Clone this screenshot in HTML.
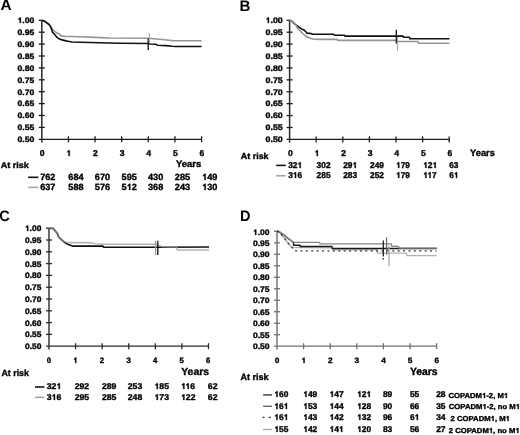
<!DOCTYPE html>
<html><head><meta charset="utf-8"><style>
html,body{margin:0;padding:0;background:#fff;}
svg{display:block;will-change:transform;}
text{font-family:"Liberation Sans", sans-serif;font-weight:bold;text-rendering:geometricPrecision;stroke:#000;stroke-width:0.35px;}
.o{fill:none;stroke:none;}
.one{fill:#000;stroke:#000;stroke-width:0.35px;}
</style></head><body>
<svg width="520" height="435" viewBox="0 0 520 435">
<rect width="520" height="435" fill="#fff"/>
<line x1="41.80" y1="20.30" x2="41.80" y2="142.50" stroke="#2a2a2a" stroke-width="1.5"/>
<line x1="38.80" y1="139.30" x2="201.58" y2="139.30" stroke="#1a1a1a" stroke-width="1.3"/>
<line x1="38.80" y1="20.30" x2="41.80" y2="20.30" stroke="#1a1a1a" stroke-width="1.3"/>
<line x1="38.80" y1="32.20" x2="44.80" y2="32.20" stroke="#1a1a1a" stroke-width="1.3"/>
<line x1="38.80" y1="44.10" x2="44.80" y2="44.10" stroke="#1a1a1a" stroke-width="1.3"/>
<line x1="38.80" y1="56.00" x2="44.80" y2="56.00" stroke="#1a1a1a" stroke-width="1.3"/>
<line x1="38.80" y1="67.90" x2="44.80" y2="67.90" stroke="#1a1a1a" stroke-width="1.3"/>
<line x1="38.80" y1="79.80" x2="44.80" y2="79.80" stroke="#1a1a1a" stroke-width="1.3"/>
<line x1="38.80" y1="91.70" x2="44.80" y2="91.70" stroke="#1a1a1a" stroke-width="1.3"/>
<line x1="38.80" y1="103.60" x2="44.80" y2="103.60" stroke="#1a1a1a" stroke-width="1.3"/>
<line x1="38.80" y1="115.50" x2="44.80" y2="115.50" stroke="#1a1a1a" stroke-width="1.3"/>
<line x1="38.80" y1="127.40" x2="44.80" y2="127.40" stroke="#1a1a1a" stroke-width="1.3"/>
<line x1="68.43" y1="136.30" x2="68.43" y2="142.30" stroke="#1a1a1a" stroke-width="1.3"/>
<line x1="95.06" y1="136.30" x2="95.06" y2="142.30" stroke="#1a1a1a" stroke-width="1.3"/>
<line x1="121.69" y1="136.30" x2="121.69" y2="142.30" stroke="#1a1a1a" stroke-width="1.3"/>
<line x1="148.32" y1="136.30" x2="148.32" y2="142.30" stroke="#1a1a1a" stroke-width="1.3"/>
<line x1="174.95" y1="136.30" x2="174.95" y2="142.30" stroke="#1a1a1a" stroke-width="1.3"/>
<line x1="201.58" y1="136.30" x2="201.58" y2="142.30" stroke="#1a1a1a" stroke-width="1.3"/>
<line x1="289.60" y1="20.30" x2="289.60" y2="142.60" stroke="#2a2a2a" stroke-width="1.5"/>
<line x1="286.60" y1="139.40" x2="449.20" y2="139.40" stroke="#1a1a1a" stroke-width="1.3"/>
<line x1="286.60" y1="20.30" x2="289.60" y2="20.30" stroke="#1a1a1a" stroke-width="1.3"/>
<line x1="286.60" y1="32.21" x2="292.60" y2="32.21" stroke="#1a1a1a" stroke-width="1.3"/>
<line x1="286.60" y1="44.12" x2="292.60" y2="44.12" stroke="#1a1a1a" stroke-width="1.3"/>
<line x1="286.60" y1="56.03" x2="292.60" y2="56.03" stroke="#1a1a1a" stroke-width="1.3"/>
<line x1="286.60" y1="67.94" x2="292.60" y2="67.94" stroke="#1a1a1a" stroke-width="1.3"/>
<line x1="286.60" y1="79.85" x2="292.60" y2="79.85" stroke="#1a1a1a" stroke-width="1.3"/>
<line x1="286.60" y1="91.76" x2="292.60" y2="91.76" stroke="#1a1a1a" stroke-width="1.3"/>
<line x1="286.60" y1="103.67" x2="292.60" y2="103.67" stroke="#1a1a1a" stroke-width="1.3"/>
<line x1="286.60" y1="115.58" x2="292.60" y2="115.58" stroke="#1a1a1a" stroke-width="1.3"/>
<line x1="286.60" y1="127.49" x2="292.60" y2="127.49" stroke="#1a1a1a" stroke-width="1.3"/>
<line x1="316.20" y1="136.40" x2="316.20" y2="142.40" stroke="#1a1a1a" stroke-width="1.3"/>
<line x1="342.80" y1="136.40" x2="342.80" y2="142.40" stroke="#1a1a1a" stroke-width="1.3"/>
<line x1="369.40" y1="136.40" x2="369.40" y2="142.40" stroke="#1a1a1a" stroke-width="1.3"/>
<line x1="396.00" y1="136.40" x2="396.00" y2="142.40" stroke="#1a1a1a" stroke-width="1.3"/>
<line x1="422.60" y1="136.40" x2="422.60" y2="142.40" stroke="#1a1a1a" stroke-width="1.3"/>
<line x1="449.20" y1="136.40" x2="449.20" y2="142.40" stroke="#1a1a1a" stroke-width="1.3"/>
<line x1="49.00" y1="228.20" x2="49.00" y2="349.40" stroke="#444" stroke-width="1.6"/>
<line x1="46.00" y1="346.20" x2="208.48" y2="346.20" stroke="#2a2a2a" stroke-width="1.3"/>
<line x1="46.00" y1="228.20" x2="49.00" y2="228.20" stroke="#2a2a2a" stroke-width="1.3"/>
<line x1="46.00" y1="240.00" x2="52.00" y2="240.00" stroke="#2a2a2a" stroke-width="1.3"/>
<line x1="46.00" y1="251.80" x2="52.00" y2="251.80" stroke="#2a2a2a" stroke-width="1.3"/>
<line x1="46.00" y1="263.60" x2="52.00" y2="263.60" stroke="#2a2a2a" stroke-width="1.3"/>
<line x1="46.00" y1="275.40" x2="52.00" y2="275.40" stroke="#2a2a2a" stroke-width="1.3"/>
<line x1="46.00" y1="287.20" x2="52.00" y2="287.20" stroke="#2a2a2a" stroke-width="1.3"/>
<line x1="46.00" y1="299.00" x2="52.00" y2="299.00" stroke="#2a2a2a" stroke-width="1.3"/>
<line x1="46.00" y1="310.80" x2="52.00" y2="310.80" stroke="#2a2a2a" stroke-width="1.3"/>
<line x1="46.00" y1="322.60" x2="52.00" y2="322.60" stroke="#2a2a2a" stroke-width="1.3"/>
<line x1="46.00" y1="334.40" x2="52.00" y2="334.40" stroke="#2a2a2a" stroke-width="1.3"/>
<line x1="75.58" y1="343.20" x2="75.58" y2="349.20" stroke="#2a2a2a" stroke-width="1.3"/>
<line x1="102.16" y1="343.20" x2="102.16" y2="349.20" stroke="#2a2a2a" stroke-width="1.3"/>
<line x1="128.74" y1="343.20" x2="128.74" y2="349.20" stroke="#2a2a2a" stroke-width="1.3"/>
<line x1="155.32" y1="343.20" x2="155.32" y2="349.20" stroke="#2a2a2a" stroke-width="1.3"/>
<line x1="181.90" y1="343.20" x2="181.90" y2="349.20" stroke="#2a2a2a" stroke-width="1.3"/>
<line x1="208.48" y1="343.20" x2="208.48" y2="349.20" stroke="#2a2a2a" stroke-width="1.3"/>
<line x1="277.00" y1="231.30" x2="277.00" y2="349.40" stroke="#808080" stroke-width="1.6"/>
<line x1="274.00" y1="346.20" x2="436.60" y2="346.20" stroke="#707070" stroke-width="1.3"/>
<line x1="274.00" y1="231.30" x2="277.00" y2="231.30" stroke="#707070" stroke-width="1.3"/>
<line x1="274.00" y1="242.79" x2="280.00" y2="242.79" stroke="#707070" stroke-width="1.3"/>
<line x1="274.00" y1="254.28" x2="280.00" y2="254.28" stroke="#707070" stroke-width="1.3"/>
<line x1="274.00" y1="265.77" x2="280.00" y2="265.77" stroke="#707070" stroke-width="1.3"/>
<line x1="274.00" y1="277.26" x2="280.00" y2="277.26" stroke="#707070" stroke-width="1.3"/>
<line x1="274.00" y1="288.75" x2="280.00" y2="288.75" stroke="#707070" stroke-width="1.3"/>
<line x1="274.00" y1="300.24" x2="280.00" y2="300.24" stroke="#707070" stroke-width="1.3"/>
<line x1="274.00" y1="311.73" x2="280.00" y2="311.73" stroke="#707070" stroke-width="1.3"/>
<line x1="274.00" y1="323.22" x2="280.00" y2="323.22" stroke="#707070" stroke-width="1.3"/>
<line x1="274.00" y1="334.71" x2="280.00" y2="334.71" stroke="#707070" stroke-width="1.3"/>
<line x1="303.60" y1="343.20" x2="303.60" y2="349.20" stroke="#707070" stroke-width="1.3"/>
<line x1="330.20" y1="343.20" x2="330.20" y2="349.20" stroke="#707070" stroke-width="1.3"/>
<line x1="356.80" y1="343.20" x2="356.80" y2="349.20" stroke="#707070" stroke-width="1.3"/>
<line x1="383.40" y1="343.20" x2="383.40" y2="349.20" stroke="#707070" stroke-width="1.3"/>
<line x1="410.00" y1="343.20" x2="410.00" y2="349.20" stroke="#707070" stroke-width="1.3"/>
<line x1="436.60" y1="343.20" x2="436.60" y2="349.20" stroke="#707070" stroke-width="1.3"/>
<line x1="28.10" y1="177.30" x2="38.40" y2="177.30" stroke="#111" stroke-width="1.6"/>
<line x1="28.30" y1="187.40" x2="38.20" y2="187.40" stroke="#a0a0a0" stroke-width="1.5"/>
<line x1="276.20" y1="165.40" x2="285.80" y2="165.40" stroke="#111" stroke-width="1.6"/>
<line x1="276.20" y1="175.80" x2="285.80" y2="175.80" stroke="#a0a0a0" stroke-width="1.5"/>
<line x1="35.00" y1="387.00" x2="44.40" y2="387.00" stroke="#111" stroke-width="1.6"/>
<line x1="35.00" y1="397.40" x2="44.40" y2="397.40" stroke="#a0a0a0" stroke-width="1.5"/>
<line x1="263.10" y1="394.90" x2="271.90" y2="394.90" stroke="#333" stroke-width="1.4"/>
<line x1="263.10" y1="406.30" x2="271.90" y2="406.30" stroke="#666" stroke-width="1.4"/>
<line x1="262.70" y1="417.40" x2="264.50" y2="417.40" stroke="#333" stroke-width="1.4"/>
<line x1="268.70" y1="417.40" x2="270.70" y2="417.40" stroke="#333" stroke-width="1.4"/>
<line x1="263.10" y1="429.50" x2="271.90" y2="429.50" stroke="#aaa" stroke-width="1.4"/>
<polyline points="41.80,20.30 45.00,21.10 47.00,22.30 49.00,23.90 50.00,25.30 51.00,26.80 53.00,30.00 55.00,31.60 57.00,33.00 59.00,33.90 60.50,35.30 62.00,36.10 65.00,36.40 70.00,36.50 80.00,36.80 95.00,37.40 110.00,38.00 148.00,38.30 151.00,38.50 162.00,39.50 174.00,40.80 201.60,40.80" fill="none" stroke="#959595" stroke-width="1.6" stroke-linejoin="round"/>
<polyline points="41.80,20.30 44.00,21.00 46.00,22.30 48.00,23.90 49.30,25.00 50.30,26.30 51.50,29.10 52.50,32.10 54.00,33.70 55.50,35.50 57.00,37.40 59.00,38.80 62.00,39.90 65.00,40.60 68.00,41.30 72.00,42.00 80.00,42.30 100.00,42.70 120.00,43.20 148.00,43.50 150.00,44.00 156.00,44.20 157.50,45.30 166.00,45.60 172.00,46.20 176.00,46.50 201.60,46.50" fill="none" stroke="#111" stroke-width="1.6" stroke-linejoin="round"/>
<line x1="149.40" y1="33.30" x2="149.40" y2="43.20" stroke="#aaa" stroke-width="1.2"/>
<line x1="148.20" y1="38.50" x2="148.20" y2="49.90" stroke="#111" stroke-width="1.3"/>
<polyline points="289.60,20.30 291.50,20.80 294.50,24.00 296.00,24.90 298.00,26.40 300.00,27.80 302.00,29.20 304.00,29.90 305.00,31.00 306.50,32.40 307.00,33.30 309.00,33.40 311.00,33.50 312.50,34.20 315.00,34.30 333.80,34.30 334.30,35.20 344.60,35.20 345.00,36.10 403.00,36.10 403.50,37.20 409.50,37.20 410.00,38.80 449.40,38.80" fill="none" stroke="#111" stroke-width="1.6" stroke-linejoin="round"/>
<polyline points="289.60,20.30 292.00,20.90 294.50,23.40 296.00,25.30 297.50,28.20 300.00,30.80 302.00,33.00 305.00,35.50 308.00,37.20 311.00,38.40 313.00,39.00 316.00,39.30 320.00,39.40 337.00,39.40 337.50,40.40 397.00,40.40 398.00,41.50 418.00,41.50 418.60,43.30 449.40,43.30" fill="none" stroke="#959595" stroke-width="1.6" stroke-linejoin="round"/>
<line x1="396.30" y1="29.80" x2="396.30" y2="43.50" stroke="#111" stroke-width="1.3"/>
<line x1="397.50" y1="37.00" x2="397.50" y2="51.00" stroke="#aaa" stroke-width="1.2"/>
<polyline points="49.00,228.40 53.30,228.40 56.00,231.70 57.50,233.70 58.50,236.50 60.00,238.40 62.00,240.10 64.00,241.80 66.00,243.30 68.00,244.40 70.00,245.00 71.50,245.80 73.00,246.10 103.00,246.10 103.50,247.20 158.00,247.20 209.00,247.00" fill="none" stroke="#111" stroke-width="1.6" stroke-linejoin="round"/>
<polyline points="49.00,228.40 53.30,228.40 56.00,231.70 57.50,233.70 58.50,236.50 60.00,238.40 62.00,240.10 64.00,241.40 66.00,242.30 68.00,242.60 90.00,242.60 93.00,243.20 96.00,243.80 103.00,244.20 156.00,244.20 158.00,245.50 162.00,246.60 170.00,247.00 176.80,247.00 177.20,250.00 209.00,250.00" fill="none" stroke="#959595" stroke-width="1.6" stroke-linejoin="round" stroke-opacity="0.7"/>
<line x1="155.60" y1="240.70" x2="155.60" y2="255.10" stroke="#999" stroke-width="1.3"/>
<line x1="157.80" y1="240.70" x2="157.80" y2="255.10" stroke="#111" stroke-width="1.3"/>
<polyline points="277.00,231.00 280.00,233.00 285.00,239.00 288.00,243.00 291.00,246.50 293.00,247.60 300.00,247.60 332.00,247.80 332.30,249.60 377.00,249.60 377.30,253.20 406.50,253.20 406.80,255.70 436.60,255.70" fill="none" stroke="#b0b0b0" stroke-width="1.3" stroke-linejoin="round"/>
<polyline points="277.00,231.00 279.00,231.60 284.00,235.00 288.00,238.40 292.00,241.30 293.50,242.30 293.50,245.20 300.00,245.20 300.30,246.50 332.00,246.50 332.30,248.50 436.60,248.50" fill="none" stroke="#1a1a1a" stroke-width="1.4" stroke-linejoin="round"/>
<polyline points="277.00,231.00 279.00,231.60 284.00,235.00 288.00,238.40 292.00,241.30 293.80,242.30 319.60,242.30 320.00,243.90 391.50,243.90 391.80,246.30 398.70,246.30 399.00,248.20 436.60,248.20" fill="none" stroke="#858585" stroke-width="1.3" stroke-linejoin="round"/>
<polyline points="277.00,231.00 280.00,233.00 285.00,239.00 288.00,243.00 291.00,246.50 293.00,248.50 295.00,250.80 436.60,251.00" fill="none" stroke="#333" stroke-width="1.25" stroke-linejoin="round" stroke-dasharray="2,3.4"/>
<line x1="383.30" y1="240.60" x2="383.30" y2="255.00" stroke="#111" stroke-width="1.2"/>
<line x1="383.30" y1="255.00" x2="383.30" y2="260.30" stroke="#111" stroke-width="1.2" stroke-dasharray="1.5,1.5"/>
<line x1="386.60" y1="237.40" x2="386.60" y2="254.80" stroke="#666" stroke-width="1.2"/>
<line x1="389.00" y1="245.60" x2="389.00" y2="266.30" stroke="#aaa" stroke-width="1.3"/>
<text transform="translate(0.41,10.00) scale(1.020,1)" font-size="15.10" fill="#000" style="stroke-width:0">A</text>
<text x="239.56" y="11.00" font-size="15.10" fill="#000" style="stroke-width:0">B</text>
<text transform="translate(-0.75,221.00) scale(0.970,1)" font-size="15.10" fill="#000" style="stroke-width:0">C</text>
<text transform="translate(239.92,221.00) scale(0.965,1)" font-size="15.10" fill="#000" style="stroke-width:0">D</text>
<text transform="translate(0.71,168.00) scale(1.070,1)" font-size="8.46" fill="#000">At risk</text>
<text transform="translate(240.76,159.00) scale(1.025,1)" font-size="8.72" fill="#000">At risk</text>
<text transform="translate(1.44,376.00) scale(0.980,1)" font-size="9.00" fill="#000">At risk</text>
<text transform="translate(240.57,380.00) scale(0.996,1)" font-size="9.04" fill="#000">At risk</text>
<text transform="translate(201.28,167.00) scale(0.999,1)" font-size="9.51" fill="#000" text-anchor="end">Years</text>
<text transform="translate(494.91,156.00) scale(0.968,1)" font-size="9.65" fill="#000" text-anchor="end">Years</text>
<text transform="translate(209.06,375.00) scale(1.018,1)" font-size="10.25" fill="#000" text-anchor="end">Years</text>
<text transform="translate(437.60,375.00) scale(0.971,1)" font-size="10.66" fill="#000" text-anchor="end">Years</text>
<text transform="translate(34.31,23.10) scale(1.100,1)" font-size="7.85" fill="#000" text-anchor="end"><tspan class="o">1</tspan>.00</text>
<text transform="translate(34.31,35.00) scale(1.100,1)" font-size="7.85" fill="#000" text-anchor="end">0.95</text>
<text transform="translate(34.31,46.90) scale(1.100,1)" font-size="7.85" fill="#000" text-anchor="end">0.90</text>
<text transform="translate(34.31,58.80) scale(1.100,1)" font-size="7.85" fill="#000" text-anchor="end">0.85</text>
<text transform="translate(34.31,70.70) scale(1.100,1)" font-size="7.85" fill="#000" text-anchor="end">0.80</text>
<text transform="translate(34.31,82.60) scale(1.100,1)" font-size="7.85" fill="#000" text-anchor="end">0.75</text>
<text transform="translate(34.31,94.50) scale(1.100,1)" font-size="7.85" fill="#000" text-anchor="end">0.70</text>
<text transform="translate(34.31,106.40) scale(1.100,1)" font-size="7.85" fill="#000" text-anchor="end">0.65</text>
<text transform="translate(34.31,118.30) scale(1.100,1)" font-size="7.85" fill="#000" text-anchor="end">0.60</text>
<text transform="translate(34.31,130.20) scale(1.100,1)" font-size="7.85" fill="#000" text-anchor="end">0.55</text>
<text transform="translate(34.31,142.10) scale(1.100,1)" font-size="7.85" fill="#000" text-anchor="end">0.50</text>
<text transform="translate(42.14,156.00) scale(1.010,1)" font-size="8.50" fill="#000" text-anchor="middle">0</text>
<text transform="translate(68.77,156.00) scale(1.010,1)" font-size="8.50" fill="#000" text-anchor="middle"><tspan class="o">1</tspan></text>
<text transform="translate(95.40,156.00) scale(1.010,1)" font-size="8.50" fill="#000" text-anchor="middle">2</text>
<text transform="translate(122.03,156.00) scale(1.010,1)" font-size="8.50" fill="#000" text-anchor="middle">3</text>
<text transform="translate(148.66,156.00) scale(1.010,1)" font-size="8.50" fill="#000" text-anchor="middle">4</text>
<text transform="translate(175.29,156.00) scale(1.010,1)" font-size="8.50" fill="#000" text-anchor="middle">5</text>
<text transform="translate(201.92,156.00) scale(1.010,1)" font-size="8.50" fill="#000" text-anchor="middle">6</text>
<text transform="translate(282.80,23.09) scale(1.100,1)" font-size="8.07" fill="#000" text-anchor="end"><tspan class="o">1</tspan>.00</text>
<text transform="translate(282.80,35.00) scale(1.100,1)" font-size="8.07" fill="#000" text-anchor="end">0.95</text>
<text transform="translate(282.80,46.91) scale(1.100,1)" font-size="8.07" fill="#000" text-anchor="end">0.90</text>
<text transform="translate(282.80,58.82) scale(1.100,1)" font-size="8.07" fill="#000" text-anchor="end">0.85</text>
<text transform="translate(282.80,70.73) scale(1.100,1)" font-size="8.07" fill="#000" text-anchor="end">0.80</text>
<text transform="translate(282.80,82.64) scale(1.100,1)" font-size="8.07" fill="#000" text-anchor="end">0.75</text>
<text transform="translate(282.80,94.55) scale(1.100,1)" font-size="8.07" fill="#000" text-anchor="end">0.70</text>
<text transform="translate(282.80,106.46) scale(1.100,1)" font-size="8.07" fill="#000" text-anchor="end">0.65</text>
<text transform="translate(282.80,118.37) scale(1.100,1)" font-size="8.07" fill="#000" text-anchor="end">0.60</text>
<text transform="translate(282.80,130.28) scale(1.100,1)" font-size="8.07" fill="#000" text-anchor="end">0.55</text>
<text transform="translate(282.80,142.19) scale(1.100,1)" font-size="8.07" fill="#000" text-anchor="end">0.50</text>
<text transform="translate(290.31,156.00) scale(1.010,1)" font-size="8.50" fill="#000" text-anchor="middle">0</text>
<text transform="translate(316.91,156.00) scale(1.010,1)" font-size="8.50" fill="#000" text-anchor="middle"><tspan class="o">1</tspan></text>
<text transform="translate(343.51,156.00) scale(1.010,1)" font-size="8.50" fill="#000" text-anchor="middle">2</text>
<text transform="translate(370.11,156.00) scale(1.010,1)" font-size="8.50" fill="#000" text-anchor="middle">3</text>
<text transform="translate(396.71,156.00) scale(1.010,1)" font-size="8.50" fill="#000" text-anchor="middle">4</text>
<text transform="translate(423.31,156.00) scale(1.010,1)" font-size="8.50" fill="#000" text-anchor="middle">5</text>
<text transform="translate(449.91,156.00) scale(1.010,1)" font-size="8.50" fill="#000" text-anchor="middle">6</text>
<text transform="translate(41.34,231.20) scale(1.040,1)" font-size="8.10" fill="#000" text-anchor="end"><tspan class="o">1</tspan>.00</text>
<text transform="translate(41.34,243.00) scale(1.040,1)" font-size="8.10" fill="#000" text-anchor="end">0.95</text>
<text transform="translate(41.34,254.80) scale(1.040,1)" font-size="8.10" fill="#000" text-anchor="end">0.90</text>
<text transform="translate(41.34,266.60) scale(1.040,1)" font-size="8.10" fill="#000" text-anchor="end">0.85</text>
<text transform="translate(41.34,278.40) scale(1.040,1)" font-size="8.10" fill="#000" text-anchor="end">0.80</text>
<text transform="translate(41.34,290.20) scale(1.040,1)" font-size="8.10" fill="#000" text-anchor="end">0.75</text>
<text transform="translate(41.34,302.00) scale(1.040,1)" font-size="8.10" fill="#000" text-anchor="end">0.70</text>
<text transform="translate(41.34,313.80) scale(1.040,1)" font-size="8.10" fill="#000" text-anchor="end">0.65</text>
<text transform="translate(41.34,325.60) scale(1.040,1)" font-size="8.10" fill="#000" text-anchor="end">0.60</text>
<text transform="translate(41.34,337.40) scale(1.040,1)" font-size="8.10" fill="#000" text-anchor="end">0.55</text>
<text transform="translate(41.34,349.20) scale(1.040,1)" font-size="8.10" fill="#000" text-anchor="end">0.50</text>
<text transform="translate(48.81,363.00) scale(0.990,1)" font-size="7.85" fill="#000" text-anchor="middle">0</text>
<text transform="translate(75.39,363.00) scale(0.990,1)" font-size="7.85" fill="#000" text-anchor="middle"><tspan class="o">1</tspan></text>
<text transform="translate(101.97,363.00) scale(0.990,1)" font-size="7.85" fill="#000" text-anchor="middle">2</text>
<text transform="translate(128.55,363.00) scale(0.990,1)" font-size="7.85" fill="#000" text-anchor="middle">3</text>
<text transform="translate(155.13,363.00) scale(0.990,1)" font-size="7.85" fill="#000" text-anchor="middle">4</text>
<text transform="translate(181.71,363.00) scale(0.990,1)" font-size="7.85" fill="#000" text-anchor="middle">5</text>
<text transform="translate(208.29,363.00) scale(0.990,1)" font-size="7.85" fill="#000" text-anchor="middle">6</text>
<text transform="translate(269.59,234.51) scale(1.070,1)" font-size="8.00" fill="#000" text-anchor="end"><tspan class="o">1</tspan>.00</text>
<text transform="translate(269.59,246.00) scale(1.070,1)" font-size="8.00" fill="#000" text-anchor="end">0.95</text>
<text transform="translate(269.59,257.49) scale(1.070,1)" font-size="8.00" fill="#000" text-anchor="end">0.90</text>
<text transform="translate(269.59,268.98) scale(1.070,1)" font-size="8.00" fill="#000" text-anchor="end">0.85</text>
<text transform="translate(269.59,280.47) scale(1.070,1)" font-size="8.00" fill="#000" text-anchor="end">0.80</text>
<text transform="translate(269.59,291.96) scale(1.070,1)" font-size="8.00" fill="#000" text-anchor="end">0.75</text>
<text transform="translate(269.59,303.45) scale(1.070,1)" font-size="8.00" fill="#000" text-anchor="end">0.70</text>
<text transform="translate(269.59,314.94) scale(1.070,1)" font-size="8.00" fill="#000" text-anchor="end">0.65</text>
<text transform="translate(269.59,326.43) scale(1.070,1)" font-size="8.00" fill="#000" text-anchor="end">0.60</text>
<text transform="translate(269.59,337.92) scale(1.070,1)" font-size="8.00" fill="#000" text-anchor="end">0.55</text>
<text transform="translate(269.59,349.41) scale(1.070,1)" font-size="8.00" fill="#000" text-anchor="end">0.50</text>
<text transform="translate(277.11,363.00) scale(1.070,1)" font-size="7.75" fill="#000" text-anchor="middle">0</text>
<text transform="translate(303.71,363.00) scale(1.070,1)" font-size="7.75" fill="#000" text-anchor="middle"><tspan class="o">1</tspan></text>
<text transform="translate(330.31,363.00) scale(1.070,1)" font-size="7.75" fill="#000" text-anchor="middle">2</text>
<text transform="translate(356.91,363.00) scale(1.070,1)" font-size="7.75" fill="#000" text-anchor="middle">3</text>
<text transform="translate(383.51,363.00) scale(1.070,1)" font-size="7.75" fill="#000" text-anchor="middle">4</text>
<text transform="translate(410.11,363.00) scale(1.070,1)" font-size="7.75" fill="#000" text-anchor="middle">5</text>
<text transform="translate(436.71,363.00) scale(1.070,1)" font-size="7.75" fill="#000" text-anchor="middle">6</text>
<text transform="translate(40.16,180.00) scale(1.024,1)" font-size="8.95" fill="#000">762</text>
<text transform="translate(68.34,180.00) scale(1.024,1)" font-size="8.95" fill="#000">684</text>
<text transform="translate(94.86,180.00) scale(1.024,1)" font-size="8.95" fill="#000">670</text>
<text transform="translate(121.61,180.00) scale(1.024,1)" font-size="8.95" fill="#000">595</text>
<text transform="translate(147.98,180.00) scale(1.024,1)" font-size="8.95" fill="#000">430</text>
<text transform="translate(174.87,180.00) scale(1.024,1)" font-size="8.95" fill="#000">285</text>
<text transform="translate(202.12,180.00) scale(1.024,1)" font-size="8.95" fill="#000"><tspan class="o">1</tspan>49</text>
<text transform="translate(40.16,190.45) scale(1.024,1)" font-size="8.95" fill="#000">637</text>
<text transform="translate(68.34,190.45) scale(1.024,1)" font-size="8.95" fill="#000">588</text>
<text transform="translate(94.86,190.45) scale(1.024,1)" font-size="8.95" fill="#000">576</text>
<text transform="translate(121.61,190.45) scale(1.024,1)" font-size="8.95" fill="#000">5<tspan class="o">1</tspan>2</text>
<text transform="translate(147.98,190.45) scale(1.024,1)" font-size="8.95" fill="#000">368</text>
<text transform="translate(174.87,190.45) scale(1.024,1)" font-size="8.95" fill="#000">243</text>
<text transform="translate(202.12,190.45) scale(1.024,1)" font-size="8.95" fill="#000"><tspan class="o">1</tspan>30</text>
<text transform="translate(288.18,168.00) scale(0.985,1)" font-size="8.48" fill="#000">32<tspan class="o">1</tspan></text>
<text transform="translate(316.62,168.00) scale(0.985,1)" font-size="8.48" fill="#000">302</text>
<text transform="translate(343.23,168.00) scale(0.985,1)" font-size="8.48" fill="#000">29<tspan class="o">1</tspan></text>
<text transform="translate(369.99,168.00) scale(0.985,1)" font-size="8.48" fill="#000">249</text>
<text transform="translate(396.01,168.00) scale(0.985,1)" font-size="8.48" fill="#000"><tspan class="o">1</tspan>79</text>
<text transform="translate(423.16,168.00) scale(0.985,1)" font-size="8.48" fill="#000"><tspan class="o">1</tspan>2<tspan class="o">1</tspan></text>
<text transform="translate(449.18,168.00) scale(0.985,1)" font-size="8.48" fill="#000">63</text>
<text transform="translate(288.18,177.77) scale(0.985,1)" font-size="8.48" fill="#000">3<tspan class="o">1</tspan>6</text>
<text transform="translate(316.62,177.77) scale(0.985,1)" font-size="8.48" fill="#000">285</text>
<text transform="translate(343.23,177.77) scale(0.985,1)" font-size="8.48" fill="#000">283</text>
<text transform="translate(369.99,177.77) scale(0.985,1)" font-size="8.48" fill="#000">252</text>
<text transform="translate(396.01,177.77) scale(0.985,1)" font-size="8.48" fill="#000"><tspan class="o">1</tspan>79</text>
<text transform="translate(423.16,177.77) scale(0.985,1)" font-size="8.48" fill="#000"><tspan class="o">1</tspan><tspan class="o">1</tspan>7</text>
<text transform="translate(449.18,177.77) scale(0.985,1)" font-size="8.48" fill="#000">6<tspan class="o">1</tspan></text>
<text transform="translate(46.74,389.00) scale(1.037,1)" font-size="8.40" fill="#000">32<tspan class="o">1</tspan></text>
<text transform="translate(74.63,389.00) scale(1.037,1)" font-size="8.40" fill="#000">292</text>
<text transform="translate(101.93,389.00) scale(1.037,1)" font-size="8.40" fill="#000">289</text>
<text transform="translate(127.78,389.00) scale(1.037,1)" font-size="8.40" fill="#000">253</text>
<text transform="translate(154.47,389.00) scale(1.037,1)" font-size="8.40" fill="#000"><tspan class="o">1</tspan>85</text>
<text transform="translate(181.00,389.00) scale(1.037,1)" font-size="8.40" fill="#000"><tspan class="o">1</tspan><tspan class="o">1</tspan>6</text>
<text transform="translate(207.81,389.00) scale(1.037,1)" font-size="8.40" fill="#000">62</text>
<text transform="translate(46.74,399.54) scale(1.037,1)" font-size="8.40" fill="#000">3<tspan class="o">1</tspan>6</text>
<text transform="translate(74.63,399.54) scale(1.037,1)" font-size="8.40" fill="#000">295</text>
<text transform="translate(101.93,399.54) scale(1.037,1)" font-size="8.40" fill="#000">285</text>
<text transform="translate(127.78,399.54) scale(1.037,1)" font-size="8.40" fill="#000">248</text>
<text transform="translate(154.47,399.54) scale(1.037,1)" font-size="8.40" fill="#000"><tspan class="o">1</tspan>73</text>
<text transform="translate(181.00,399.54) scale(1.037,1)" font-size="8.40" fill="#000"><tspan class="o">1</tspan>22</text>
<text transform="translate(207.81,399.54) scale(1.037,1)" font-size="8.40" fill="#000">62</text>
<text x="274.29" y="397.00" font-size="8.42" fill="#000"><tspan class="o">1</tspan>60</text>
<text x="303.19" y="397.00" font-size="8.42" fill="#000"><tspan class="o">1</tspan>49</text>
<text x="329.55" y="397.00" font-size="8.42" fill="#000"><tspan class="o">1</tspan>47</text>
<text x="357.09" y="397.00" font-size="8.42" fill="#000"><tspan class="o">1</tspan>2<tspan class="o">1</tspan></text>
<text x="382.94" y="397.00" font-size="8.42" fill="#000">89</text>
<text x="409.93" y="397.00" font-size="8.42" fill="#000">55</text>
<text x="436.13" y="397.00" font-size="8.42" fill="#000">28</text>
<text x="274.29" y="408.76" font-size="8.42" fill="#000"><tspan class="o">1</tspan>6<tspan class="o">1</tspan></text>
<text x="303.19" y="408.76" font-size="8.42" fill="#000"><tspan class="o">1</tspan>53</text>
<text x="329.55" y="408.76" font-size="8.42" fill="#000"><tspan class="o">1</tspan>44</text>
<text x="357.09" y="408.76" font-size="8.42" fill="#000"><tspan class="o">1</tspan>28</text>
<text x="382.94" y="408.76" font-size="8.42" fill="#000">90</text>
<text x="409.93" y="408.76" font-size="8.42" fill="#000">66</text>
<text x="436.13" y="408.76" font-size="8.42" fill="#000">35</text>
<text x="274.29" y="420.29" font-size="8.42" fill="#000"><tspan class="o">1</tspan>6<tspan class="o">1</tspan></text>
<text x="303.19" y="420.29" font-size="8.42" fill="#000"><tspan class="o">1</tspan>43</text>
<text x="329.55" y="420.29" font-size="8.42" fill="#000"><tspan class="o">1</tspan>42</text>
<text x="357.09" y="420.29" font-size="8.42" fill="#000"><tspan class="o">1</tspan>32</text>
<text x="382.94" y="420.29" font-size="8.42" fill="#000">96</text>
<text x="409.93" y="420.29" font-size="8.42" fill="#000">6<tspan class="o">1</tspan></text>
<text x="436.13" y="420.29" font-size="8.42" fill="#000">34</text>
<text x="274.29" y="431.99" font-size="8.42" fill="#000"><tspan class="o">1</tspan>55</text>
<text x="303.19" y="431.99" font-size="8.42" fill="#000"><tspan class="o">1</tspan>42</text>
<text x="329.55" y="431.99" font-size="8.42" fill="#000"><tspan class="o">1</tspan>4<tspan class="o">1</tspan></text>
<text x="357.09" y="431.99" font-size="8.42" fill="#000"><tspan class="o">1</tspan>20</text>
<text x="382.94" y="431.99" font-size="8.42" fill="#000">83</text>
<text x="409.93" y="431.99" font-size="8.42" fill="#000">56</text>
<text x="436.13" y="431.99" font-size="8.42" fill="#000">27</text>
<text transform="translate(448.40,397.80) scale(1.070,1)" font-size="7.20" fill="#000">COPADM<tspan class="o">1</tspan>-2, M<tspan class="o">1</tspan></text>
<text transform="translate(448.80,409.30) scale(1.070,1)" font-size="7.20" fill="#000">COPADM<tspan class="o">1</tspan>-2, no M<tspan class="o">1</tspan></text>
<text transform="translate(450.60,420.90) scale(1.070,1)" font-size="7.20" fill="#000">2 COPADM<tspan class="o">1</tspan>, M<tspan class="o">1</tspan></text>
<text transform="translate(448.80,433.20) scale(1.070,1)" font-size="7.20" fill="#000">2 COPADM<tspan class="o">1</tspan>, no M<tspan class="o">1</tspan></text>
<path class="one" transform="translate(34.31,23.10) scale(1.100,1) translate(-15.281,-0.100) scale(0.00383,-0.00383)" d="M520 0L520 1000L220 870L220 1110L590 1409L800 1409L800 0Z" vector-effect="non-scaling-stroke"/>
<path class="one" transform="translate(68.77,156.00) scale(1.010,1) translate(-2.367,0.000) scale(0.00415,-0.00415)" d="M520 0L520 1000L220 870L220 1110L590 1409L800 1409L800 0Z" vector-effect="non-scaling-stroke"/>
<path class="one" transform="translate(282.80,23.09) scale(1.100,1) translate(-15.703,-0.090) scale(0.00394,-0.00394)" d="M520 0L520 1000L220 870L220 1110L590 1409L800 1409L800 0Z" vector-effect="non-scaling-stroke"/>
<path class="one" transform="translate(316.91,156.00) scale(1.010,1) translate(-2.367,0.000) scale(0.00415,-0.00415)" d="M520 0L520 1000L220 870L220 1110L590 1409L800 1409L800 0Z" vector-effect="non-scaling-stroke"/>
<path class="one" transform="translate(41.34,231.20) scale(1.040,1) translate(-15.781,-0.200) scale(0.00396,-0.00396)" d="M520 0L520 1000L220 870L220 1110L590 1409L800 1409L800 0Z" vector-effect="non-scaling-stroke"/>
<path class="one" transform="translate(75.39,363.00) scale(0.990,1) translate(-2.188,0.000) scale(0.00383,-0.00383)" d="M520 0L520 1000L220 870L220 1110L590 1409L800 1409L800 0Z" vector-effect="non-scaling-stroke"/>
<path class="one" transform="translate(269.59,234.51) scale(1.070,1) translate(-15.578,0.490) scale(0.00391,-0.00391)" d="M520 0L520 1000L220 870L220 1110L590 1409L800 1409L800 0Z" vector-effect="non-scaling-stroke"/>
<path class="one" transform="translate(303.71,363.00) scale(1.070,1) translate(-2.156,0.000) scale(0.00378,-0.00378)" d="M520 0L520 1000L220 870L220 1110L590 1409L800 1409L800 0Z" vector-effect="non-scaling-stroke"/>
<path class="one" transform="translate(202.12,180.00) scale(1.024,1) translate(0.000,0.000) scale(0.00437,-0.00437)" d="M520 0L520 1000L220 870L220 1110L590 1409L800 1409L800 0Z" vector-effect="non-scaling-stroke"/>
<path class="one" transform="translate(121.61,190.45) scale(1.024,1) translate(4.984,-0.450) scale(0.00437,-0.00437)" d="M520 0L520 1000L220 870L220 1110L590 1409L800 1409L800 0Z" vector-effect="non-scaling-stroke"/>
<path class="one" transform="translate(202.12,190.45) scale(1.024,1) translate(0.000,-0.450) scale(0.00437,-0.00437)" d="M520 0L520 1000L220 870L220 1110L590 1409L800 1409L800 0Z" vector-effect="non-scaling-stroke"/>
<path class="one" transform="translate(288.18,168.00) scale(0.985,1) translate(9.422,0.000) scale(0.00414,-0.00414)" d="M520 0L520 1000L220 870L220 1110L590 1409L800 1409L800 0Z" vector-effect="non-scaling-stroke"/>
<path class="one" transform="translate(343.23,168.00) scale(0.985,1) translate(9.422,0.000) scale(0.00414,-0.00414)" d="M520 0L520 1000L220 870L220 1110L590 1409L800 1409L800 0Z" vector-effect="non-scaling-stroke"/>
<path class="one" transform="translate(396.01,168.00) scale(0.985,1) translate(0.000,0.000) scale(0.00414,-0.00414)" d="M520 0L520 1000L220 870L220 1110L590 1409L800 1409L800 0Z" vector-effect="non-scaling-stroke"/>
<path class="one" transform="translate(423.16,168.00) scale(0.985,1) translate(0.000,0.000) scale(0.00414,-0.00414)" d="M520 0L520 1000L220 870L220 1110L590 1409L800 1409L800 0Z" vector-effect="non-scaling-stroke"/>
<path class="one" transform="translate(423.16,168.00) scale(0.985,1) translate(9.438,0.000) scale(0.00414,-0.00414)" d="M520 0L520 1000L220 870L220 1110L590 1409L800 1409L800 0Z" vector-effect="non-scaling-stroke"/>
<path class="one" transform="translate(288.18,177.77) scale(0.985,1) translate(4.719,0.230) scale(0.00414,-0.00414)" d="M520 0L520 1000L220 870L220 1110L590 1409L800 1409L800 0Z" vector-effect="non-scaling-stroke"/>
<path class="one" transform="translate(396.01,177.77) scale(0.985,1) translate(0.000,0.230) scale(0.00414,-0.00414)" d="M520 0L520 1000L220 870L220 1110L590 1409L800 1409L800 0Z" vector-effect="non-scaling-stroke"/>
<path class="one" transform="translate(423.16,177.77) scale(0.985,1) translate(0.000,0.230) scale(0.00414,-0.00414)" d="M520 0L520 1000L220 870L220 1110L590 1409L800 1409L800 0Z" vector-effect="non-scaling-stroke"/>
<path class="one" transform="translate(423.16,177.77) scale(0.985,1) translate(4.250,0.230) scale(0.00414,-0.00414)" d="M520 0L520 1000L220 870L220 1110L590 1409L800 1409L800 0Z" vector-effect="non-scaling-stroke"/>
<path class="one" transform="translate(449.18,177.77) scale(0.985,1) translate(4.719,0.230) scale(0.00414,-0.00414)" d="M520 0L520 1000L220 870L220 1110L590 1409L800 1409L800 0Z" vector-effect="non-scaling-stroke"/>
<path class="one" transform="translate(46.74,389.00) scale(1.037,1) translate(9.328,0.000) scale(0.00410,-0.00410)" d="M520 0L520 1000L220 870L220 1110L590 1409L800 1409L800 0Z" vector-effect="non-scaling-stroke"/>
<path class="one" transform="translate(154.47,389.00) scale(1.037,1) translate(0.000,0.000) scale(0.00410,-0.00410)" d="M520 0L520 1000L220 870L220 1110L590 1409L800 1409L800 0Z" vector-effect="non-scaling-stroke"/>
<path class="one" transform="translate(181.00,389.00) scale(1.037,1) translate(0.000,0.000) scale(0.00410,-0.00410)" d="M520 0L520 1000L220 870L220 1110L590 1409L800 1409L800 0Z" vector-effect="non-scaling-stroke"/>
<path class="one" transform="translate(181.00,389.00) scale(1.037,1) translate(4.203,0.000) scale(0.00410,-0.00410)" d="M520 0L520 1000L220 870L220 1110L590 1409L800 1409L800 0Z" vector-effect="non-scaling-stroke"/>
<path class="one" transform="translate(46.74,399.54) scale(1.037,1) translate(4.672,0.460) scale(0.00410,-0.00410)" d="M520 0L520 1000L220 870L220 1110L590 1409L800 1409L800 0Z" vector-effect="non-scaling-stroke"/>
<path class="one" transform="translate(154.47,399.54) scale(1.037,1) translate(0.000,0.460) scale(0.00410,-0.00410)" d="M520 0L520 1000L220 870L220 1110L590 1409L800 1409L800 0Z" vector-effect="non-scaling-stroke"/>
<path class="one" transform="translate(181.00,399.54) scale(1.037,1) translate(0.000,0.460) scale(0.00410,-0.00410)" d="M520 0L520 1000L220 870L220 1110L590 1409L800 1409L800 0Z" vector-effect="non-scaling-stroke"/>
<path class="one" transform="translate(274.290,397.000) scale(0.00411,-0.00411)" d="M520 0L520 1000L220 870L220 1110L590 1409L800 1409L800 0Z" vector-effect="non-scaling-stroke"/>
<path class="one" transform="translate(303.190,397.000) scale(0.00411,-0.00411)" d="M520 0L520 1000L220 870L220 1110L590 1409L800 1409L800 0Z" vector-effect="non-scaling-stroke"/>
<path class="one" transform="translate(329.550,397.000) scale(0.00411,-0.00411)" d="M520 0L520 1000L220 870L220 1110L590 1409L800 1409L800 0Z" vector-effect="non-scaling-stroke"/>
<path class="one" transform="translate(357.090,397.000) scale(0.00411,-0.00411)" d="M520 0L520 1000L220 870L220 1110L590 1409L800 1409L800 0Z" vector-effect="non-scaling-stroke"/>
<path class="one" transform="translate(366.465,397.000) scale(0.00411,-0.00411)" d="M520 0L520 1000L220 870L220 1110L590 1409L800 1409L800 0Z" vector-effect="non-scaling-stroke"/>
<path class="one" transform="translate(274.290,409.000) scale(0.00411,-0.00411)" d="M520 0L520 1000L220 870L220 1110L590 1409L800 1409L800 0Z" vector-effect="non-scaling-stroke"/>
<path class="one" transform="translate(283.665,409.000) scale(0.00411,-0.00411)" d="M520 0L520 1000L220 870L220 1110L590 1409L800 1409L800 0Z" vector-effect="non-scaling-stroke"/>
<path class="one" transform="translate(303.190,409.000) scale(0.00411,-0.00411)" d="M520 0L520 1000L220 870L220 1110L590 1409L800 1409L800 0Z" vector-effect="non-scaling-stroke"/>
<path class="one" transform="translate(329.550,409.000) scale(0.00411,-0.00411)" d="M520 0L520 1000L220 870L220 1110L590 1409L800 1409L800 0Z" vector-effect="non-scaling-stroke"/>
<path class="one" transform="translate(357.090,409.000) scale(0.00411,-0.00411)" d="M520 0L520 1000L220 870L220 1110L590 1409L800 1409L800 0Z" vector-effect="non-scaling-stroke"/>
<path class="one" transform="translate(274.290,420.000) scale(0.00411,-0.00411)" d="M520 0L520 1000L220 870L220 1110L590 1409L800 1409L800 0Z" vector-effect="non-scaling-stroke"/>
<path class="one" transform="translate(283.665,420.000) scale(0.00411,-0.00411)" d="M520 0L520 1000L220 870L220 1110L590 1409L800 1409L800 0Z" vector-effect="non-scaling-stroke"/>
<path class="one" transform="translate(303.190,420.000) scale(0.00411,-0.00411)" d="M520 0L520 1000L220 870L220 1110L590 1409L800 1409L800 0Z" vector-effect="non-scaling-stroke"/>
<path class="one" transform="translate(329.550,420.000) scale(0.00411,-0.00411)" d="M520 0L520 1000L220 870L220 1110L590 1409L800 1409L800 0Z" vector-effect="non-scaling-stroke"/>
<path class="one" transform="translate(357.090,420.000) scale(0.00411,-0.00411)" d="M520 0L520 1000L220 870L220 1110L590 1409L800 1409L800 0Z" vector-effect="non-scaling-stroke"/>
<path class="one" transform="translate(414.617,420.000) scale(0.00411,-0.00411)" d="M520 0L520 1000L220 870L220 1110L590 1409L800 1409L800 0Z" vector-effect="non-scaling-stroke"/>
<path class="one" transform="translate(274.290,432.000) scale(0.00411,-0.00411)" d="M520 0L520 1000L220 870L220 1110L590 1409L800 1409L800 0Z" vector-effect="non-scaling-stroke"/>
<path class="one" transform="translate(303.190,432.000) scale(0.00411,-0.00411)" d="M520 0L520 1000L220 870L220 1110L590 1409L800 1409L800 0Z" vector-effect="non-scaling-stroke"/>
<path class="one" transform="translate(329.550,432.000) scale(0.00411,-0.00411)" d="M520 0L520 1000L220 870L220 1110L590 1409L800 1409L800 0Z" vector-effect="non-scaling-stroke"/>
<path class="one" transform="translate(338.925,432.000) scale(0.00411,-0.00411)" d="M520 0L520 1000L220 870L220 1110L590 1409L800 1409L800 0Z" vector-effect="non-scaling-stroke"/>
<path class="one" transform="translate(357.090,432.000) scale(0.00411,-0.00411)" d="M520 0L520 1000L220 870L220 1110L590 1409L800 1409L800 0Z" vector-effect="non-scaling-stroke"/>
<path class="one" transform="translate(448.40,397.80) scale(1.070,1) translate(31.422,0.200) scale(0.00352,-0.00352)" d="M520 0L520 1000L220 870L220 1110L590 1409L800 1409L800 0Z" vector-effect="non-scaling-stroke"/>
<path class="one" transform="translate(448.40,397.80) scale(1.070,1) translate(51.797,0.200) scale(0.00352,-0.00352)" d="M520 0L520 1000L220 870L220 1110L590 1409L800 1409L800 0Z" vector-effect="non-scaling-stroke"/>
<path class="one" transform="translate(448.80,409.30) scale(1.070,1) translate(31.422,-0.300) scale(0.00352,-0.00352)" d="M520 0L520 1000L220 870L220 1110L590 1409L800 1409L800 0Z" vector-effect="non-scaling-stroke"/>
<path class="one" transform="translate(448.80,409.30) scale(1.070,1) translate(62.578,-0.300) scale(0.00352,-0.00352)" d="M520 0L520 1000L220 870L220 1110L590 1409L800 1409L800 0Z" vector-effect="non-scaling-stroke"/>
<path class="one" transform="translate(450.60,420.90) scale(1.070,1) translate(37.406,0.100) scale(0.00352,-0.00352)" d="M520 0L520 1000L220 870L220 1110L590 1409L800 1409L800 0Z" vector-effect="non-scaling-stroke"/>
<path class="one" transform="translate(450.60,420.90) scale(1.070,1) translate(51.391,0.100) scale(0.00352,-0.00352)" d="M520 0L520 1000L220 870L220 1110L590 1409L800 1409L800 0Z" vector-effect="non-scaling-stroke"/>
<path class="one" transform="translate(448.80,433.20) scale(1.070,1) translate(37.406,-0.200) scale(0.00352,-0.00352)" d="M520 0L520 1000L220 870L220 1110L590 1409L800 1409L800 0Z" vector-effect="non-scaling-stroke"/>
<path class="one" transform="translate(448.80,433.20) scale(1.070,1) translate(62.172,-0.200) scale(0.00352,-0.00352)" d="M520 0L520 1000L220 870L220 1110L590 1409L800 1409L800 0Z" vector-effect="non-scaling-stroke"/>
</svg>
</body></html>
